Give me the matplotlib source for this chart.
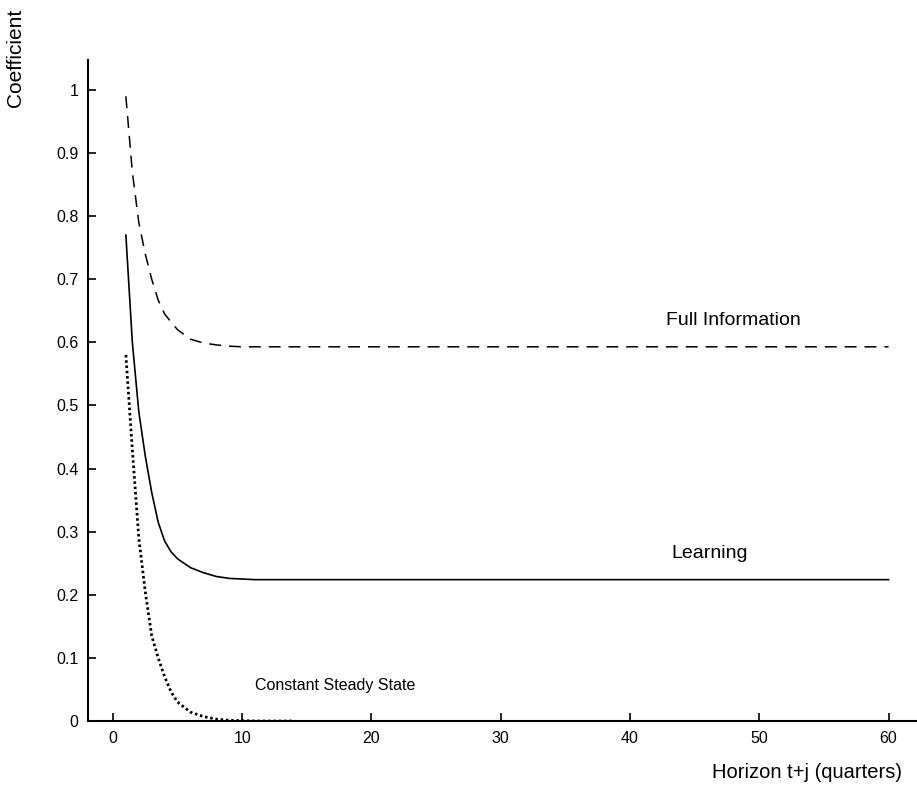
import matplotlib
matplotlib.use("Agg")
import matplotlib.pyplot as plt

plt.rcParams['font.family'] = ['Liberation Sans', 'DejaVu Sans']

# horizon in quarters (half steps where the curves bend fast)
horizon = [1, 1.5, 2, 2.5, 3, 3.5, 4, 4.5, 5] + list(range(6, 61))

# flat after ~10 quarters
full_info = [0.99, 0.87, 0.79, 0.74, 0.70, 0.667, 0.645, 0.632, 0.62,
             0.605, 0.599, 0.596, 0.594, 0.593] + [0.593] * 50
learning = [0.77, 0.60, 0.49, 0.42, 0.362, 0.315, 0.285, 0.268, 0.257,
            0.243, 0.235, 0.229, 0.226, 0.225] + [0.224] * 50
steady_h = [1, 1.5, 2, 2.5, 3, 3.5, 4, 4.5, 5] + list(range(6, 15))
steady = [0.58, 0.43, 0.29, 0.205, 0.135, 0.10, 0.07, 0.046, 0.03,
          0.014, 0.007, 0.003, 0.001, 0.0005, 0.0, 0.0, 0.0, 0.0]

xticks = [0, 10, 20, 30, 40, 50, 60]
yticks = [0, 0.1, 0.2, 0.3, 0.4, 0.5, 0.6, 0.7, 0.8, 0.9, 1]
yticklabels = ['0', '0.1', '0.2', '0.3', '0.4', '0.5', '0.6', '0.7', '0.8', '0.9', '1']

fig = plt.figure(figsize=(9.17, 7.91), dpi=100)
ax = fig.add_axes([88/917, 70/791, 1 - 88/917, (721-60)/791])

ax.plot(horizon, full_info, color='black', lw=1.1, linestyle=(0, (7.8, 5.2)))
ax.plot(horizon, learning, color='black', lw=1.2)
ax.plot(steady_h, steady, color='black', lw=2.0, linestyle=(0, (0.9, 1.0)))

ax.text(42.8, 0.634, 'Full Information', fontsize=14, va='center', ha='left')
ax.text(43.2, 0.266, 'Learning', fontsize=14, va='center', ha='left')
ax.text(11.0, 0.057, 'Constant Steady State', fontsize=11.5, va='center', ha='left')

ax.set_xlim(-1.93, 62.2)
ax.set_ylim(0, 1.0475)
ax.set_xticks(xticks)
ax.set_yticks(yticks)
ax.set_yticklabels(yticklabels)
ax.tick_params(direction='in', length=6, width=1.2, labelsize=11.5, pad=7)

for side in ['top', 'right']:
    ax.spines[side].set_visible(False)
for side in ['left', 'bottom']:
    ax.spines[side].set_linewidth(1.5)

fig.text(15/917, 1 - 58/791, 'Coefficient', rotation=90, fontsize=15, ha='center', va='center')
fig.text(807/917, 1 - 772/791, 'Horizon t+j (quarters)', fontsize=14.5, ha='center', va='center')

fig.savefig('out.png', dpi=100)
